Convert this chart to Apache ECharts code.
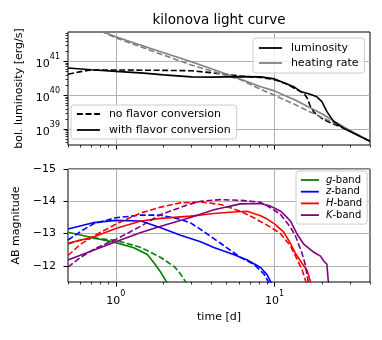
<!DOCTYPE html>
<html>
<head>
<meta charset="utf-8">
<script src="https://cdn.jsdelivr.net/npm/echarts@6/dist/echarts.min.js"></script>
<style>
  html, body { margin: 0; padding: 0; background: #fff; }
  #chart { width: 382px; height: 340px; }
</style>
</head>
<body>
<div id="chart"></div>
<script>
// time axis ticks [d]
const timeMajorTicks = [1, 10];
const timeMinorTicks = [0.5, 0.6, 0.7, 0.8, 0.9, 2, 3, 4, 5, 6, 7, 8, 9, 20, 30, 40];
const lumMajorTicks = [1e39, 1e40, 1e41];
const magTicks = [-15, -14, -13, -12];

// bolometric luminosity [erg/s], pairs of [time, value]
const lumWithFlavor = [[0.5, 6.4e40], [0.7, 5.7e40], [1, 5.1e40], [1.5, 4.5e40], [2, 4.0e40], [3, 3.5e40], [4.1, 3.45e40], [6.1, 3.55e40], [8.2, 3.5e40], [10, 3.05e40], [12, 2.15e40], [13.2, 1.8e40], [14.6, 1.3e40], [16.8, 1.08e40], [18.5, 9.0e39], [19.9, 6.5e39], [21.4, 3.3e39], [23.6, 1.7e39], [27.3, 1.06e39], [33, 6.8e38], [40, 4.4e38]];
const lumNoFlavor = [[0.5, 4.2e40], [0.6, 5.0e40], [0.7, 5.6e40], [1, 5.6e40], [2, 5.45e40], [3, 5.3e40], [4.1, 4.6e40], [6.1, 3.7e40], [8.2, 3.35e40], [10, 2.9e40], [12, 2.15e40], [13.2, 1.65e40], [14.6, 1.3e40], [15.5, 1.05e40], [16.1, 8.2e39], [16.8, 4.8e39], [17.7, 3.2e39], [20.4, 1.9e39], [26, 1.18e39], [33, 6.9e38], [40, 4.4e38]];
const heatWithFlavor = [[0.5, 1.7e42], [0.84, 7.4e41], [1, 5.4e41], [1.66, 2.4e41], [2.96, 1.0e41], [4.13, 5.8e40], [5.5, 3.6e40], [8.2, 1.8e40], [10, 1.35e40], [11.5, 1.0e40], [13.2, 7.6e39], [16.8, 4.3e39], [20, 2.8e39], [27.3, 1.17e39], [33, 7.2e38], [40, 4.3e38]];
const heatNoFlavor = [[0.5, 1.7e42], [0.84, 7.2e41], [1, 5.0e41], [1.66, 2.1e41], [2.96, 8.0e40], [4.13, 5.0e40], [5.0, 3.8e40], [6.1, 2.9e40], [8.2, 1.5e40], [10, 1.0e40], [13.2, 5.6e39], [16.8, 3.2e39], [20, 2.2e39], [27.3, 1.15e39], [33, 7.1e38], [40, 4.3e38]];

// AB magnitudes, pairs of [time, mag]
const gWith = [[0.5, -13.04], [0.73, -12.86], [1, -12.72], [1.3, -12.56], [1.58, -12.35], [1.75, -12.08], [1.92, -11.8], [2.12, -11.45]];
const gNo = [[0.5, -12.68], [0.6, -12.8], [0.75, -12.86], [1, -12.79], [1.44, -12.57], [1.66, -12.42], [1.92, -12.26], [2.33, -11.98], [2.5, -11.82], [2.8, -11.45]];
const zWith = [[0.5, -13.14], [0.73, -13.34], [1, -13.41], [1.44, -13.39], [1.92, -13.18], [2.56, -12.95], [3.42, -12.75], [4.15, -12.57], [5.52, -12.35], [6.74, -12.18], [8.17, -11.95], [9.0, -11.72], [9.6, -11.45]];
const zNo = [[0.5, -12.8], [0.63, -13.13], [0.73, -13.31], [1, -13.49], [1.44, -13.57], [1.92, -13.57], [2.56, -13.44], [2.96, -13.33], [3.42, -13.13], [4.13, -12.85], [4.57, -12.7], [6.11, -12.26], [7.41, -12.05], [8.57, -11.75], [9.3, -11.45]];
const hWith = [[0.5, -12.7], [0.73, -12.9], [1, -13.16], [1.44, -13.39], [1.92, -13.47], [2.96, -13.54], [4.15, -13.62], [5.5, -13.67], [6.74, -13.69], [7.41, -13.62], [8.17, -13.55], [9.0, -13.45], [10, -13.3], [11.4, -13.05], [12.6, -12.7], [13.5, -12.4], [14.9, -12.08], [16.1, -11.85], [17, -11.45]];
const hNo = [[0.5, -12.32], [0.6, -12.67], [0.73, -12.93], [1, -13.29], [1.44, -13.64], [1.92, -13.82], [2.56, -13.95], [3.42, -13.98], [4.57, -13.9], [6.11, -13.69], [7.41, -13.49], [9.44, -13.2], [10.9, -13.0], [12.6, -12.62], [13.9, -12.2], [15.0, -11.85], [15.9, -11.45]];
const kWith = [[0.5, -12.18], [0.73, -12.49], [1, -12.75], [1.44, -13.03], [1.92, -13.23], [2.96, -13.5], [4.15, -13.74], [6.11, -13.92], [8.17, -13.93], [9.44, -13.85], [10.9, -13.7], [12.0, -13.5], [12.6, -13.39], [13.9, -12.98], [15.3, -12.67], [17.7, -12.42], [19.5, -12.3], [20.4, -12.16], [21.4, -12.05], [21.9, -11.45]];
const kNo = [[0.5, -11.96], [0.6, -12.26], [0.73, -12.52], [1, -12.82], [1.44, -13.23], [1.92, -13.59], [2.96, -13.92], [3.42, -14.0], [4.57, -14.05], [6.11, -14.03], [8.17, -13.97], [9.44, -13.8], [10.9, -13.6], [12.6, -13.2], [13.5, -12.95], [14.9, -12.4], [15.6, -12.06], [16.4, -11.45]];

const font = 'DejaVu Sans';
const dash = [6, 2.6];
const gridColor = '#b0b0b0';

const supRich = {
  b: { fontSize: 11, fontFamily: font, color: '#000', lineHeight: 17, verticalAlign: 'bottom' },
  s: { fontSize: 8, fontFamily: font, color: '#000', lineHeight: 8, verticalAlign: 'top' }
};
const powLabel = v => '{b|10}{s|' + Math.round(Math.log10(v)) + '}';

function majorX(gridIndex, showLabel) {
  return {
    type: 'log', logBase: 10, gridIndex, min: 0.5, max: 40, position: 'bottom',
    axisLine: { show: false },
    axisTick: { show: true, customValues: timeMajorTicks, length: 4.5, lineStyle: { color: '#000', width: 1 } },
    axisLabel: { show: showLabel, customValues: timeMajorTicks, formatter: powLabel, rich: supRich, margin: 8 },
    splitLine: { show: true, lineStyle: { color: gridColor, width: 1 } },
    name: showLabel ? 'time [d]' : '', nameLocation: 'middle', nameGap: 30,
    nameTextStyle: { fontSize: 11, fontFamily: font, color: '#000' }
  };
}
function minorX(gridIndex) {
  return {
    type: 'log', logBase: 10, gridIndex, min: 0.5, max: 40, position: 'bottom',
    axisLine: { show: false },
    axisTick: { show: true, customValues: timeMinorTicks, length: 2.5, lineStyle: { color: '#000', width: 0.8 } },
    axisLabel: { show: false },
    splitLine: { show: false }
  };
}

function line(name, data, color, dashed, xi, yi) {
  return {
    name, type: 'line', data, xAxisIndex: xi, yAxisIndex: yi,
    symbol: 'none', smooth: false, clip: true,
    itemStyle: { color },
    lineStyle: { color, width: 1.6, type: dashed ? dash : 'solid' },
    emphasis: { disabled: true }
  };
}

const legendBox = {
  orient: 'vertical', selectedMode: false,
  backgroundColor: 'rgba(255,255,255,0.8)', borderColor: '#cccccc', borderWidth: 1, borderRadius: 3,
  itemStyle: { opacity: 0 },
  lineStyle: { width: 1.8 }
};

const chart = echarts.init(document.getElementById('chart'));
chart.setOption({
  animation: false,
  backgroundColor: '#fff',
  title: {
    text: 'kilonova light curve', left: 219, top: 13, padding: 0, textAlign: 'center',
    textStyle: { fontSize: 13.5, fontWeight: 'normal', fontFamily: font, color: '#000' }
  },
  grid: [
    { left: 68, top: 32, width: 302, height: 113, show: true, borderColor: '#000', borderWidth: 1, backgroundColor: 'transparent' },
    { left: 68, top: 169, width: 302, height: 113, show: true, borderColor: '#000', borderWidth: 1, backgroundColor: 'transparent' }
  ],
  xAxis: [majorX(0, false), minorX(0), majorX(1, true), minorX(1)],
  yAxis: [
    {
      type: 'log', logBase: 10, gridIndex: 0, min: 3.4e38, max: 7.4e41, position: 'left',
      axisLine: { show: false },
      axisTick: { show: true, customValues: lumMajorTicks, length: 4.5, lineStyle: { color: '#000', width: 1 } },
      axisLabel: { customValues: lumMajorTicks, formatter: powLabel, rich: supRich, margin: 8 },
      splitLine: { show: true, lineStyle: { color: gridColor, width: 1 } },
      name: 'bol. luminosity [erg/s]', nameLocation: 'middle', nameGap: 40,
      nameTextStyle: { fontSize: 11, fontFamily: font, color: '#000' }
    },
    {
      type: 'log', logBase: 10, gridIndex: 0, min: 3.4e38, max: 7.4e41, position: 'left',
      axisLine: { show: false },
      axisTick: {
        show: true, length: 2.5, lineStyle: { color: '#000', width: 0.8 },
        customValues: [38, 39, 40, 41].flatMap(e => [2, 3, 4, 5, 6, 7, 8, 9].map(m => m * Math.pow(10, e)))
      },
      axisLabel: { show: false },
      splitLine: { show: false }
    },
    {
      type: 'value', gridIndex: 1, min: -15, max: -11.5, inverse: true, position: 'left',
      axisLine: { show: false },
      axisTick: { show: true, customValues: magTicks, length: 4.5, lineStyle: { color: '#000', width: 1 } },
      axisLabel: {
        customValues: magTicks, margin: 12, fontSize: 11, fontFamily: font, color: '#000',
        formatter: v => (v < 0 ? '\u2212' + Math.abs(v) : String(v))
      },
      splitLine: { show: true, lineStyle: { color: gridColor, width: 1 } },
      name: 'AB magnitude', nameLocation: 'middle', nameGap: 36,
      nameTextStyle: { fontSize: 11, fontFamily: font, color: '#000' }
    }
  ],
  legend: [
    Object.assign({}, legendBox, {
      data: ['luminosity', 'heating rate'], left: 253, top: 38,
      itemWidth: 23, itemHeight: 12, itemGap: 3, padding: [4, 6, 4, 5],
      textStyle: { fontSize: 11, fontFamily: font, color: '#000', lineHeight: 12, padding: [0, 0, 0, 4] }
    }),
    Object.assign({}, legendBox, {
      data: ['no flavor conversion', 'with flavor conversion'], left: 71, top: 105,
      itemWidth: 23, itemHeight: 12, itemGap: 4, padding: [3, 6, 3, 5],
      textStyle: { fontSize: 11, fontFamily: font, color: '#000', lineHeight: 12, padding: [0, 0, 0, 4] }
    }),
    Object.assign({}, legendBox, {
      data: ['g-band', 'z-band', 'H-band', 'K-band'], left: 296, top: 171,
      itemWidth: 18, itemHeight: 10, itemGap: 1.7, padding: [4, 5, 4, 4],
      formatter: name => '{i|' + name.split('-')[0] + '}-band',
      textStyle: {
        fontSize: 10, fontFamily: font, color: '#000', lineHeight: 10, padding: [0, 0, 0, 2],
        rich: { i: { fontSize: 10, fontFamily: font, fontStyle: 'italic', color: '#000' } }
      }
    })
  ],
  series: [
    line('lum no flavor', lumNoFlavor, '#000', true, 0, 0),
    line('heat no flavor', heatNoFlavor, '#808080', true, 0, 0),
    line('heat with flavor', heatWithFlavor, '#808080', false, 0, 0),
    line('lum with flavor', lumWithFlavor, '#000', false, 0, 0),
    line('luminosity', [], '#000', false, 0, 0),
    line('heating rate', [], '#808080', false, 0, 0),
    line('no flavor conversion', [], '#000', true, 0, 0),
    line('with flavor conversion', [], '#000', false, 0, 0),
    line('g-band', gWith, '#008000', false, 2, 2),
    line('g no flavor', gNo, '#008000', true, 2, 2),
    line('z-band', zWith, '#0000ff', false, 2, 2),
    line('z no flavor', zNo, '#0000ff', true, 2, 2),
    line('H-band', hWith, '#ff0000', false, 2, 2),
    line('H no flavor', hNo, '#ff0000', true, 2, 2),
    line('K-band', kWith, '#800080', false, 2, 2),
    line('K no flavor', kNo, '#800080', true, 2, 2)
  ]
});
</script>
</body>
</html>
